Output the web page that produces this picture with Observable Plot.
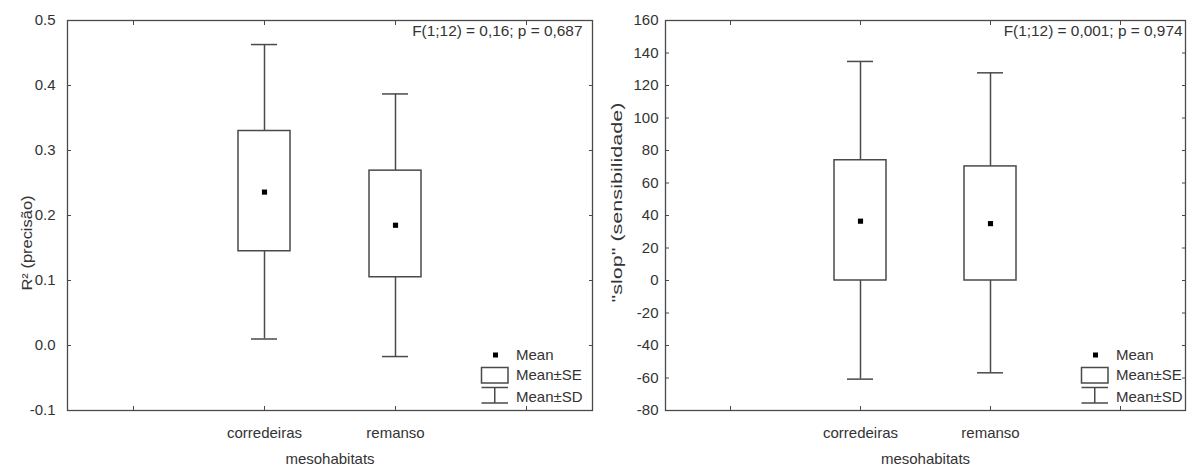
<!DOCTYPE html>
<html>
<head>
<meta charset="utf-8">
<script src="https://cdn.jsdelivr.net/npm/d3@7"></script>
<script src="https://cdn.jsdelivr.net/npm/@observablehq/plot@0.6"></script>
<style>
  html, body { margin: 0; padding: 0; background: #fff; }
  #wrap { position: relative; width: 1193px; height: 466px; font-family: "Liberation Sans", Arial, sans-serif; }
  #wrap > .panel { position: absolute; top: 0; }
  .legend { position: absolute; }
  .legend text { font-family: "Liberation Sans", Arial, sans-serif; font-size: 15px; fill: #333; }
</style>
</head>
<body>
<div id="wrap"></div>
<script>
// ---- data ----
const categories = ["corredeiras", "remanso"];
const xSlots = ["slot1", "corredeiras", "remanso", "slot4"];

const r2Mean   = [0.236, 0.185];
const r2SeLow  = [0.145, 0.105];
const r2SeHigh = [0.330, 0.269];
const r2SdLow  = [0.010, -0.017];
const r2SdHigh = [0.463, 0.387];
const r2Ticks  = [-0.1, 0.0, 0.1, 0.2, 0.3, 0.4, 0.5];

const slopeMean   = [36.5, 35.0];
const slopeSeLow  = [0.0, 0.0];
const slopeSeHigh = [74.0, 70.2];
const slopeSdLow  = [-60.7, -56.8];
const slopeSdHigh = [134.8, 127.8];
const slopeTicks  = [-80, -60, -40, -20, 0, 20, 40, 60, 80, 100, 120, 140, 160];

const xLabel = "mesohabitats";
const r2Label = "R² (precisão)";
const slopeLabel = "\"slop\" (sensibilidade)";
const r2Stat = "F(1;12) = 0,16; p = 0,687";
const slopeStat = "F(1;12) = 0,001; p = 0,974";
const legendLabels = ["Mean", "Mean±SE", "Mean±SD"];

// ---- drawing ----
const LINE = "#4a4a4a";
const TEXT = "#333";

function rows(mean, seLo, seHi, sdLo, sdHi) {
  return categories.map((c, i) => ({cat: c, mean: mean[i], seLo: seLo[i], seHi: seHi[i], sdLo: sdLo[i], sdHi: sdHi[i]}));
}

function panel({data, ticks, fmt, yLabel, yLabelLength, stat, width, marginLeft, marginRight, tickPadding, labelDx, labelDy, statDx}) {
  const yDomain = [ticks[0], ticks[ticks.length - 1]];
  const svg = Plot.plot({
    width, height: 466,
    marginLeft, marginRight, marginTop: 20, marginBottom: 56,
    style: {fontFamily: "Liberation Sans, Arial, sans-serif", fontSize: "15px", color: TEXT, background: "white", overflow: "visible"},
    x: {type: "band", domain: xSlots, paddingInner: 0.6, paddingOuter: 0.3},
    y: {domain: yDomain},
    marks: [
      // tick labels
      Plot.axisY({ticks, tickSize: 0, tickPadding, tickFormat: fmt, label: null, fill: TEXT}),
      Plot.axisX({tickSize: 0, tickPadding: 17, tickFormat: d => categories.includes(d) ? d : "", label: null, fill: TEXT}),
      // inward tick marks on all four sides
      Plot.axisY({anchor: "left", ticks, tickSize: 4, dx: 4, tickFormat: () => "", label: null, stroke: LINE}),
      Plot.axisY({anchor: "right", ticks, tickSize: 4, dx: -4, tickFormat: () => "", label: null, stroke: LINE}),
      Plot.axisX({anchor: "bottom", tickSize: 4, dy: -4, tickFormat: () => "", label: null, stroke: LINE}),
      Plot.axisX({anchor: "top", tickSize: 4, dy: 4, tickFormat: () => "", label: null, stroke: LINE}),
      Plot.frame({stroke: LINE, strokeWidth: 1.3}),
      // whiskers (Mean±SD)
      Plot.ruleX(data, {x: "cat", y1: "sdLo", y2: "seLo", stroke: LINE, strokeWidth: 1.5}),
      Plot.ruleX(data, {x: "cat", y1: "seHi", y2: "sdHi", stroke: LINE, strokeWidth: 1.5}),
      Plot.tickY(data, {x: "cat", y: "sdLo", insetLeft: 13, insetRight: 13, stroke: LINE, strokeWidth: 1.5}),
      Plot.tickY(data, {x: "cat", y: "sdHi", insetLeft: 13, insetRight: 13, stroke: LINE, strokeWidth: 1.5}),
      // box (Mean±SE)
      Plot.barY(data, {x: "cat", y1: "seLo", y2: "seHi", fill: "white", stroke: LINE, strokeWidth: 1.5}),
      // mean
      Plot.dot(data, {x: "cat", y: "mean", symbol: "square", r: 2.9, fill: "black", stroke: "none"}),
      // texts
      Plot.text([yLabel], {text: d => d, frameAnchor: "left", dx: labelDx, dy: labelDy, rotate: -90, textAnchor: "middle", lineAnchor: "middle", fill: TEXT, fontSize: 15}),
      Plot.text([xLabel], {text: d => d, frameAnchor: "bottom", dy: 49, textAnchor: "middle", lineAnchor: "middle", fill: TEXT}),
      Plot.text([stat], {text: d => d, frameAnchor: "top-right", dx: statDx, dy: 10.5, textAnchor: "end", lineAnchor: "middle", fill: TEXT, fontSize: 15.4})
    ]
  });
  d3.select(svg).selectAll("text")
    .filter(function () { return this.textContent === yLabel; })
    .attr("textLength", yLabelLength)
    .attr("lengthAdjust", "spacingAndGlyphs");
  return svg;
}

const wrap = document.getElementById("wrap");

const left = panel({
  data: rows(r2Mean, r2SeLow, r2SeHigh, r2SdLow, r2SdHigh),
  ticks: r2Ticks, fmt: d => d.toFixed(1), yLabel: r2Label, yLabelLength: 95, stat: r2Stat,
  width: 597, marginLeft: 67, marginRight: 5, tickPadding: 12,
  labelDx: -40, labelDy: 27.5, statDx: -10
});
left.classList.add("panel");
left.style.left = "0px";
wrap.appendChild(left);

const right = panel({
  data: rows(slopeMean, slopeSeLow, slopeSeHigh, slopeSdLow, slopeSdHigh),
  ticks: slopeTicks, fmt: d => String(d), yLabel: slopeLabel, yLabelLength: 200, stat: slopeStat,
  width: 596, marginLeft: 68, marginRight: 8, tickPadding: 7,
  labelDx: -48, labelDy: -13, statDx: -3
});
right.classList.add("panel");
right.style.left = "597px";
wrap.appendChild(right);

// ---- legends (Mean / Mean±SE / Mean±SD) ----
function legend(leftPx) {
  const svg = d3.create("svg").attr("class", "legend").attr("width", 115).attr("height", 64)
    .style("left", leftPx + "px").style("top", "345px");
  svg.append("rect").attr("x", 15).attr("y", 7.5).attr("width", 5).attr("height", 5).attr("fill", "black");
  svg.append("rect").attr("x", 3.5).attr("y", 22.5).attr("width", 26.5).attr("height", 15.5)
    .attr("fill", "white").attr("stroke", LINE).attr("stroke-width", 1.5);
  const g = svg.append("g").attr("stroke", LINE).attr("stroke-width", 1.5);
  g.append("line").attr("x1", 3.5).attr("x2", 30).attr("y1", 42.5).attr("y2", 42.5);
  g.append("line").attr("x1", 3.5).attr("x2", 30).attr("y1", 58).attr("y2", 58);
  g.append("line").attr("x1", 16.75).attr("x2", 16.75).attr("y1", 42.5).attr("y2", 58);
  const ys = [10, 30, 51.5];
  legendLabels.forEach((t, i) => {
    svg.append("text").attr("x", 38).attr("y", ys[i]).attr("dy", "0.35em").text(t);
  });
  wrap.appendChild(svg.node());
}
legend(478);
legend(1078);
</script>
</body>
</html>
